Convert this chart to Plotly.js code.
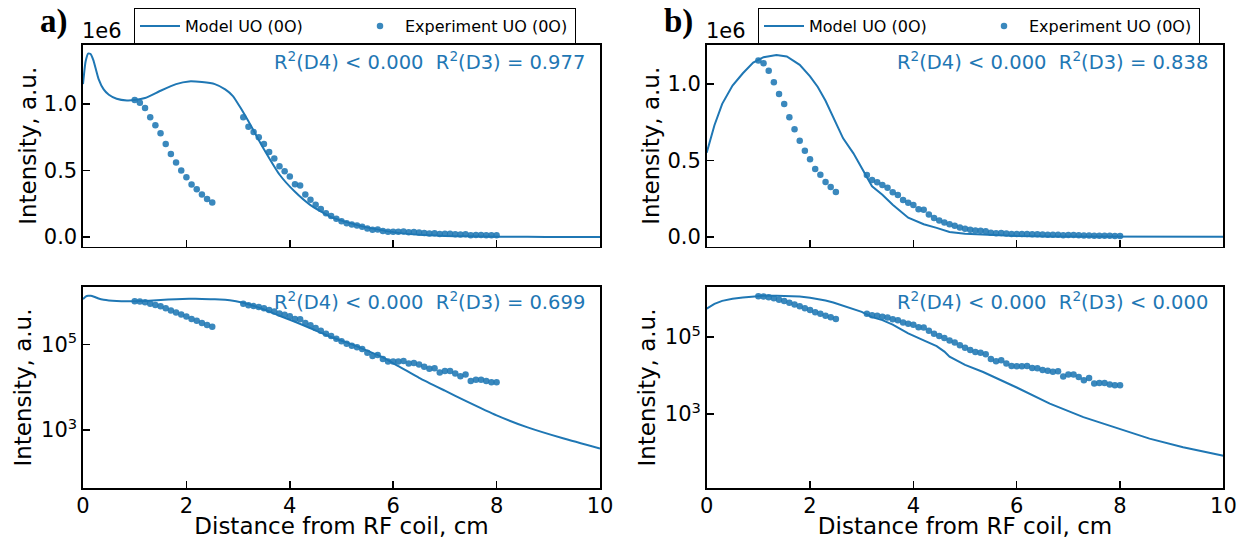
<!DOCTYPE html>
<html>
<head>
<meta charset="utf-8">
<script src="https://cdn.plot.ly/plotly-3.0.1.min.js"></script>
<style>html,body{margin:0;padding:0;background:#fff}#plot{width:1239px;height:539px}</style>
</head>
<body>
<div id="plot"></div>
<script>
// ---- data ----
const xModelA = [0, 0.05, 0.1, 0.15, 0.2, 0.25, 0.3, 0.4, 0.5, 0.65, 0.85, 1.0, 1.2, 1.5, 1.8, 2.05, 2.3, 2.55, 2.75, 2.9, 3.05, 3.2, 3.5, 3.8, 4.1, 4.4, 4.8, 5.1, 5.4, 5.8, 6.1, 6.5, 7.0, 7.4, 8.0, 8.6, 9.3, 10];
const yModelA = [1150000, 1320000, 1380000, 1375000, 1330000, 1260000, 1190000, 1110000, 1070000, 1040000, 1027000, 1030000, 1045000, 1100000, 1150000, 1170000, 1165000, 1150000, 1110000, 1060000, 970000, 870000, 660000, 470000, 340000, 240000, 150000, 112000, 80000, 50000, 31000, 16600, 8300, 4800, 2200, 1150, 630, 370];

const xModelB = [0, 0.15, 0.3, 0.5, 0.7, 0.9, 1.1, 1.35, 1.55, 1.8, 2.0, 2.15, 2.3, 2.45, 2.64, 2.84, 3.0, 3.2, 3.4, 3.6, 3.9, 4.2, 4.45, 4.6, 4.7, 5.0, 5.35, 6.0, 6.64, 7.29, 7.94, 8.57, 9.22, 10];
const yModelB = [550000, 730000, 870000, 990000, 1070000, 1140000, 1175000, 1190000, 1180000, 1125000, 1050000, 980000, 890000, 786000, 644000, 546000, 450000, 330000, 275000, 210000, 125000, 82000, 58000, 42000, 31000, 19000, 12400, 4900, 1870, 830, 430, 230, 138, 83];

const xExp = [1.0, 1.1, 1.2, 1.3, 1.4, 1.5, 1.6, 1.7, 1.8, 1.9, 2.0, 2.1, 2.2, 2.3, 2.4, 2.5,
  3.1, 3.2, 3.3, 3.4, 3.5, 3.6, 3.7, 3.8, 3.9, 4.0, 4.1, 4.2, 4.3, 4.4, 4.5, 4.6, 4.7, 4.8, 4.9, 5.0,
  5.1, 5.2, 5.3, 5.4, 5.5, 5.6, 5.7, 5.8, 5.9, 6.0, 6.1, 6.2, 6.3, 6.4, 6.5, 6.6, 6.7, 6.8, 6.9, 7.0,
  7.1, 7.2, 7.3, 7.4, 7.5, 7.6, 7.7, 7.8, 7.9, 8.0];
const yExpA = [1030000, 1010000, 970000, 900000, 840000, 780000, 700000, 625000, 560000, 500000, 450000, 395000, 360000, 320000, 285000, 260000,
  900000, 830000, 790000, 750000, 700000, 640000, 590000, 533000, 495000, 455000, 397000, 387000, 319000, 281000, 243000, 211000, 178000, 158000, 137000, 119000,
  104000, 94000, 86000, 78000, 64000, 54000, 57000, 46000, 40000, 40000, 40000, 41000, 36000, 37000, 34000, 30000, 27000, 28000, 22000, 24000,
  24000, 21000, 18000, 20000, 14000, 15000, 15000, 14000, 13000, 13000];
const yExpB = [1153000, 1135000, 1087000, 1011000, 934000, 869000, 782000, 703000, 629000, 563000, 507000, 443000, 406000, 358000, 325000, 293000,
  404000, 371000, 356000, 339000, 321000, 291000, 273000, 240000, 223000, 208000, 180000, 177000, 145000, 122000, 107000, 94000, 82000, 72000, 61000, 53000,
  46000, 41000, 39000, 36000, 27000, 23600, 25000, 20500, 17800, 17500, 17500, 17800, 15800, 15600, 14000, 13300, 12600, 13000, 9400, 10700,
  10700, 9200, 7600, 8700, 6200, 6400, 6400, 5900, 5600, 5600];

const seriesNames = ['Model UO (0O)', 'Experiment UO (0O)'];
const r2Texts = [
  'R<sup>2</sup>(D4) &lt; 0.000&nbsp;&nbsp;R<sup>2</sup>(D3) = 0.977',
  'R<sup>2</sup>(D4) &lt; 0.000&nbsp;&nbsp;R<sup>2</sup>(D3) = 0.699',
  'R<sup>2</sup>(D4) &lt; 0.000&nbsp;&nbsp;R<sup>2</sup>(D3) = 0.838',
  'R<sup>2</sup>(D4) &lt; 0.000&nbsp;&nbsp;R<sup>2</sup>(D3) &lt; 0.000'
];
const xTicks = [0, 2, 4, 6, 8, 10];
const linTickVals = [0, 500000, 1000000];
const linTickText = ['0.0', '0.5', '1.0'];
const logTickVals = [1000, 100000];
const logTickText = ['10<sup>3</sup>', '10<sup>5</sup>'];

// ---- style ----
const C = '#1f77b4';
const FONT = 'DejaVu Sans, sans-serif';
const W = 1239, H = 539;
const px = v => v / W;
const py = v => 1 - v / H;

function modelTrace(x, y, xa, ya, legend, show, shape) {
  return {x: x, y: y, xaxis: xa, yaxis: ya, type: 'scatter', mode: 'lines',
    name: seriesNames[0], legend: legend, showlegend: show,
    line: {color: C, width: 2, shape: shape, smoothing: 0.5}};
}
function expTrace(x, y, xa, ya, legend, show) {
  return {x: x, y: y, xaxis: xa, yaxis: ya, type: 'scatter', mode: 'markers',
    name: seriesNames[1], legend: legend, showlegend: show,
    marker: {color: 'rgba(31,119,180,0.88)', size: 6.5, line: {width: 0}}};
}

const data = [
  modelTrace(xModelA, yModelA, 'x', 'y', 'legend', true, 'spline'),
  expTrace(xExp, yExpA, 'x', 'y', 'legend', true),
  modelTrace(xModelA, yModelA, 'x2', 'y2', 'legend', false, 'spline'),
  expTrace(xExp, yExpA, 'x2', 'y2', 'legend', false),
  modelTrace(xModelB, yModelB, 'x3', 'y3', 'legend2', true, 'linear'),
  expTrace(xExp, yExpB, 'x3', 'y3', 'legend2', true),
  modelTrace(xModelB, yModelB, 'x4', 'y4', 'legend2', false, 'linear'),
  expTrace(xExp, yExpB, 'x4', 'y4', 'legend2', false)
];

const axBase = {
  showline: true, linecolor: '#000', linewidth: 1.6, mirror: true,
  ticks: 'inside', ticklen: 7, tickwidth: 1.5, tickcolor: '#000',
  showgrid: false, zeroline: false,
  tickfont: {family: FONT, size: 21, color: '#000'}
};
const domLeft = [px(83), px(600)];
const domRight = [px(706.7), px(1223.4)];
const domTop = [py(246.5), py(45)];
const domBot = [py(488), py(287)];
const titleFont = {family: FONT, size: 23, color: '#000'};

function xAx(domain, anchor, labels) {
  const a = Object.assign({}, axBase, {domain: domain, anchor: anchor, range: [0, 10],
    tickmode: 'array', tickvals: xTicks, showticklabels: labels});
  if (labels) {
    a.title = {text: 'Distance from RF coil, cm', font: titleFont, standoff: 7};
    a.ticklabelstandoff = -2;
  }
  return a;
}
function yLin(domain, anchor, range) {
  return Object.assign({}, axBase, {domain: domain, anchor: anchor, range: range,
    tickmode: 'array', tickvals: linTickVals, ticktext: linTickText,
    title: {text: 'Intensity, a.u.', font: titleFont, standoff: 1}});
}
function yLog(domain, anchor, range) {
  return Object.assign({}, axBase, {domain: domain, anchor: anchor, type: 'log', range: range,
    tickmode: 'array', tickvals: logTickVals, ticktext: logTickText,
    title: {text: 'Intensity, a.u.', font: titleFont, standoff: 3}});
}

const legBase = {orientation: 'h', xanchor: 'left', yanchor: 'top', y: py(8),
  bordercolor: '#000', borderwidth: 1, bgcolor: '#fff',
  font: {family: FONT, size: 16, color: '#000'}, entrywidth: 165, entrywidthmode: 'pixels',
  traceorder: 'normal', itemwidth: 40};

const annBase = {xref: 'paper', yref: 'paper', showarrow: false};
const labelFont = {family: 'Liberation Serif, DejaVu Serif, serif', size: 33, color: '#000'};
const annotations = [
  Object.assign({}, annBase, {x: px(38), y: py(1), xanchor: 'left', yanchor: 'top', text: '<b>a)</b>', font: labelFont}),
  Object.assign({}, annBase, {x: px(662), y: py(1), xanchor: 'left', yanchor: 'top', text: '<b>b)</b>', font: labelFont}),
  Object.assign({}, annBase, {x: px(80), y: py(45), xanchor: 'left', yanchor: 'bottom', text: '1e6',
    font: {family: FONT, size: 21, color: '#000'}}),
  Object.assign({}, annBase, {x: px(704), y: py(45), xanchor: 'left', yanchor: 'bottom', text: '1e6',
    font: {family: FONT, size: 21, color: '#000'}}),
  Object.assign({}, annBase, {x: px(587), y: py(61), xanchor: 'right', yanchor: 'middle', text: r2Texts[0],
    font: {family: FONT, size: 19.5, color: C}}),
  Object.assign({}, annBase, {x: px(587), y: py(301), xanchor: 'right', yanchor: 'middle', text: r2Texts[1],
    font: {family: FONT, size: 19.5, color: C}}),
  Object.assign({}, annBase, {x: px(1210), y: py(61), xanchor: 'right', yanchor: 'middle', text: r2Texts[2],
    font: {family: FONT, size: 19.5, color: C}}),
  Object.assign({}, annBase, {x: px(1210), y: py(301), xanchor: 'right', yanchor: 'middle', text: r2Texts[3],
    font: {family: FONT, size: 19.5, color: C}})
];

const layout = {
  width: W, height: H,
  margin: {l: 0, r: 0, t: 0, b: 0, pad: 0},
  paper_bgcolor: '#fff', plot_bgcolor: '#fff',
  font: {family: FONT, color: '#000'},
  xaxis: xAx(domLeft, 'y', false),
  yaxis: yLin(domTop, 'x', [-71400, 1444000]),
  xaxis2: xAx(domLeft, 'y2', true),
  yaxis2: yLog(domBot, 'x2', [1.643, 6.345]),
  xaxis3: xAx(domRight, 'y3', false),
  yaxis3: yLin(domTop, 'x3', [-63800, 1255000]),
  xaxis4: xAx(domRight, 'y4', true),
  yaxis4: yLog(domBot, 'x4', [1.08, 6.30]),
  legend: Object.assign({}, legBase, {x: px(134)}),
  legend2: Object.assign({}, legBase, {x: px(758)}),
  annotations: annotations
};

Plotly.newPlot('plot', data, layout, {staticPlot: true, displayModeBar: false});
</script>
</body>
</html>
